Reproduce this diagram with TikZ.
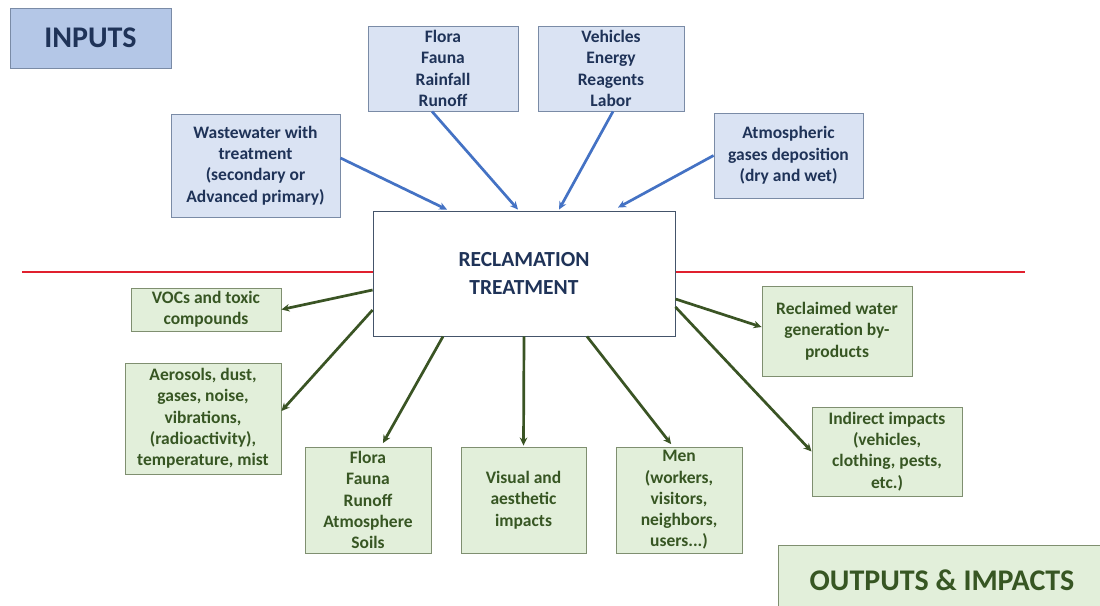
\documentclass[tikz,border=0pt]{standalone}
\usepackage{fontspec}
\setmainfont{Carlito}
\usetikzlibrary{arrows.meta}
\definecolor{inbg}{HTML}{DAE3F3}
\definecolor{inhead}{HTML}{B4C7E7}
\definecolor{inborder}{HTML}{7A8BA6}
\definecolor{navy}{HTML}{1F3358}
\definecolor{bluearrow}{HTML}{4472C4}
\definecolor{outbg}{HTML}{E2EFDA}
\definecolor{outborder}{HTML}{7F8F70}
\definecolor{darkgreen}{HTML}{375623}
\definecolor{greenarrow}{HTML}{3A5424}
\definecolor{redline}{HTML}{E0202E}
\definecolor{recborder}{HTML}{44546A}
\begin{document}
\begin{tikzpicture}[x=1pt,y=-1pt,
  inbox/.style={draw=inborder, fill=inbg, line width=0.9pt, text=navy, align=center, inner sep=0pt,
    font=\bfseries\fontsize{17.5}{21.3}\selectfont},
  outbox/.style={draw=outborder, fill=outbg, line width=0.9pt, text=darkgreen, align=center, inner sep=0pt,
    font=\bfseries\fontsize{17.5}{21.3}\selectfont},
  inarrow/.style={draw=bluearrow, line width=2.7pt, -{Stealth[length=8pt,width=7.5pt]}},
  outarrow/.style={draw=greenarrow, line width=2.7pt, -{Stealth[length=8pt,width=7.5pt]}}
]
\clip (0,0) rectangle (1100,605);
\fill[white] (0,0) rectangle (1100,605);

% red separator
\coordinate (rl) at (22,272);
\coordinate (rr) at (1025,272);
\draw[redline, line width=2.8pt] (rl) -- (rr);

% heading boxes
\node[draw=inborder, fill=inhead, line width=0.9pt, text=navy, inner sep=0pt,
  minimum width=161pt, minimum height=60pt, font=\bfseries\fontsize{30}{34}\selectfont]
  (inputs) at (90.5,38) {INPUTS};
\node[draw=outborder, fill=outbg, line width=0.9pt, text=darkgreen, inner sep=0pt,
  minimum width=332pt, minimum height=70pt, font=\bfseries\fontsize{30}{34}\selectfont]
  (outputs) at (944,580) {\hspace*{-4pt}OUTPUTS \& IMPACTS};

% center
\node[draw=recborder, fill=white, line width=0.9pt, text=navy, align=center, inner sep=0pt,
  minimum width=302pt, minimum height=125pt, font=\bfseries\fontsize{21.5}{27.5}\selectfont]
  (rec) at (524,273.5) {RECLAMATION\\TREATMENT};

% inputs
\node[inbox, minimum width=150pt, minimum height=85pt] (flora1) at (443,68.5) {Flora\\Fauna\\Rainfall\\Runoff};
\node[inbox, minimum width=146pt, minimum height=85pt] (veh) at (611,68.5) {Vehicles\\Energy\\Reagents\\Labor};
\node[inbox, minimum width=169pt, minimum height=103pt] (ww) at (255.5,165.5)
  {Wastewater with\\treatment\\(secondary or\\Advanced primary)};
\node[inbox, minimum width=149pt, minimum height=85pt] (atm) at (788.5,155.5)
  {Atmospheric\\gases deposition\\(dry and wet)};

% outputs
\node[outbox, minimum width=150pt, minimum height=43pt] (voc) at (206,309.5) {VOCs and toxic\\compounds};
\node[outbox, minimum width=156pt, minimum height=111pt] (aer) at (203,418.5)
  {Aerosols, dust,\\gases, noise,\\vibrations,\\(radioactivity),\\temperature, mist};
\node[outbox, minimum width=126pt, minimum height=106pt] (flora2) at (368,500)
  {Flora\\Fauna\\Runoff\\Atmosphere\\Soils};
\node[outbox, minimum width=125pt, minimum height=106pt] (vis) at (523.5,500)
  {Visual and\\aesthetic\\impacts};
\node[outbox, minimum width=126pt, minimum height=106pt] (men) at (679,500)
  {Men\\(workers,\\visitors,\\neighbors,\\users...)};
\node[outbox, minimum width=150pt, minimum height=90pt] (recl) at (837,331)
  {Reclaimed water\\generation by-\\products};
\node[outbox, minimum width=150pt, minimum height=89pt] (ind) at (887,451.5)
  {Indirect impacts\\(vehicles,\\clothing, pests,\\etc.)};

% input arrows
\draw[inarrow] ([yshift=7.5pt]ww.east) -- ([xshift=-77pt,yshift=1pt]rec.north);
\draw[inarrow] ([xshift=-11pt]flora1.south) -- ([xshift=-6pt,yshift=1pt]rec.north);
\draw[inarrow] ([xshift=2pt]veh.south) -- ([xshift=35pt,yshift=1pt]rec.north);
\draw[inarrow] (atm.west) -- ([xshift=94pt,yshift=3pt]rec.north);

% output arrows
\draw[outarrow] ([yshift=-16.5pt]rec.west) -- (voc.east);
\draw[outarrow] ([yshift=-36.5pt]rec.west) -- ([yshift=7.5pt]aer.east);
\draw[outarrow, shorten >=4pt] ([xshift=-81pt]rec.south) -- ([xshift=13pt]flora2.north);
\draw[outarrow, shorten >=1pt] (rec.south) -- (vis.north);
\draw[outarrow, shorten >=3pt] ([xshift=63pt]rec.south) -- ([xshift=-6pt]men.north);
\draw[outarrow] ([yshift=-25.5pt]rec.east) -- ([yshift=4pt]recl.west);
\draw[outarrow] ([yshift=-33.5pt]rec.east) -- (ind.west);
\end{tikzpicture}
\end{document}
